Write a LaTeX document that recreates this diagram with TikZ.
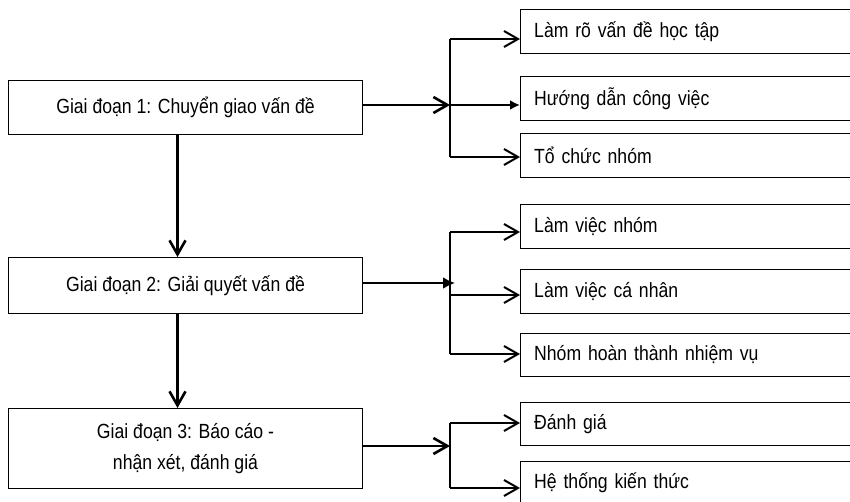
\documentclass[tikz,border=0pt]{standalone}
\usepackage{fontspec}
\setmainfont{Liberation Sans}[FakeStretch=0.86]
\usetikzlibrary{positioning}
\usetikzlibrary{arrows.meta}

\begin{document}
\begin{tikzpicture}[
		x=1pt, y=-1pt,
		% Style definitions
		stage/.style={draw, line width=1pt, minimum width=354pt, align=center, font=\fontsize{20.5}{31}\selectfont, anchor=north west},
		task/.style={minimum width=330pt, minimum height=43pt, text width=302pt, inner xsep=14pt, align=left, font=\fontsize{20.5}{24}\selectfont, anchor=north west},
		taskbox/.style={line width=1pt},
		mainline/.style={line width=2.6pt},
		branch/.style={line width=2pt},
		barb/.style={-{Straight Barb[length=14pt, width=16pt]}},
		solid tip/.style={-{Latex[length=10pt, width=10pt]}},
		]
		\useasboundingbox (0,0) rectangle (850,502);

		% Column 1: stages (top to bottom)
		\node[stage, minimum height=54pt] (g1) at (8,80) {Giai đoạn 1: Chuyển giao vấn đề};
		\node[stage, minimum height=56pt] (g2) at (8,257) {Giai đoạn 2: Giải quyết vấn đề};
		\node[stage, minimum height=80pt] (g3) at (8,408) {Giai đoạn 3: Báo cáo -\\nhận xét, đánh giá};

		% Column 2: tasks of each stage (boxes open at the right edge)
		\node[task] (t11) at (520,10) {Làm rõ vấn đề học tập};
		\node[task] (t12) at (520,77) {Hướng dẫn công việc};
		\node[task] (t13) at (520,134) {Tổ chức nhóm};
		\node[task] (t21) at (520,205) {Làm việc nhóm};
		\node[task] (t22) at (520,270) {Làm việc cá nhân};
		\node[task] (t23) at (520,333) {Nhóm hoàn thành nhiệm vụ};
		\node[task] (t31) at (520,402) {Đánh giá};
		\node[task] (t32) at (520,461) {Hệ thống kiến thức};
		\foreach \t in {t11,t12,t13,t21,t22,t23,t31,t32}
			\draw[taskbox] (\t.north east) -- (\t.north west) -- (\t.south west) -- (\t.south east);

		% Branch points
		\coordinate (j1) at (450,105);
		\coordinate (j11) at (450,39);
		\coordinate (j13) at (450,157);
		\coordinate (j2) at (450,283);
		\coordinate (j21) at (450,232);
		\coordinate (j22) at (450,295);
		\coordinate (j23) at (450,354);
		\coordinate (j3) at (450,446);
		\coordinate (j31) at (450,423);
		\coordinate (j32) at (450,488);

		% Arrows - stage to stage
		\draw[mainline, barb] ([xshift=-8pt]g1.south) -- ([xshift=-8pt]g2.north);
		\draw[mainline, barb] ([xshift=-8pt]g2.south) -- ([xshift=-8pt]g3.north);

		% Arrows - stage 1 to its tasks
		\draw[mainline, barb] (g1.east |- j1) -- (j1);
		\draw[branch] (j11) -- (j13);
		\draw[branch, barb] (j11) -- (j11 -| t11.west);
		\draw[branch, solid tip] (j1) -- (j1 -| t12.west);
		\draw[branch, barb] (j13) -- (j13 -| t13.west);

		% Arrows - stage 2 to its tasks
		\draw[mainline, -{Latex[length=12pt, width=12pt]}] (g2.east |- j2) -- ([xshift=5pt]j2);
		\draw[branch] (j21) -- (j23);
		\draw[branch, barb] (j21) -- (j21 -| t21.west);
		\draw[branch, barb] (j22) -- (j22 -| t22.west);
		\draw[branch, barb] (j23) -- (j23 -| t23.west);

		% Arrows - stage 3 to its tasks
		\draw[mainline, barb] (g3.east |- j3) -- (j3);
		\draw[branch] (j31) -- (j32);
		\draw[branch, barb] (j31) -- (j31 -| t31.west);
		\draw[branch, barb] (j32) -- (j32 -| t32.west);

	\end{tikzpicture}
\end{document}
